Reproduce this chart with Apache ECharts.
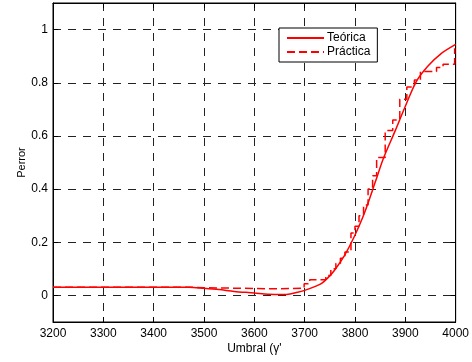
<!DOCTYPE html>
<html><head><meta charset="utf-8">
<script src="https://cdn.jsdelivr.net/npm/echarts@6/dist/echarts.min.js"></script>
<style>html,body{margin:0;padding:0;background:#fff}#c{width:472px;height:362px}</style>
</head><body><div id="c"></div>
<script>
// Theoretical curve (Teórica)
const theoX = [3200,3300,3400,3470,3500,3530,3560,3600,3627,3660,3686,3700,3720,3733,3746,3759,3779,3798,3818,3841,3856,3880,3899,3922,3945,3970,4000];
const theoY = [0.031,0.031,0.031,0.031,0.027,0.022,0.015,0.009,0.004,0.003,0.012,0.019,0.033,0.044,0.066,0.094,0.15,0.219,0.306,0.43,0.513,0.62,0.707,0.805,0.863,0.908,0.944];
// Practical curve (Práctica), staircase
const pracX = [3200,3470,3500,3640,3699,3710,3742,3752,3762,3771,3780,3792,3800,3808,3817,3826,3835,3843,3860,3875,3889,3903,3918,3930,3962,3975,3998];
const pracY = [0.031,0.029,0.025,0.027,0.044,0.059,0.075,0.10,0.12,0.14,0.163,0.235,0.26,0.30,0.34,0.40,0.45,0.519,0.62,0.66,0.738,0.784,0.81,0.842,0.857,0.87,0.93];
const xTicks = [3200,3300,3400,3500,3600,3700,3800,3900,4000];
const yTicks = [0,0.2,0.4,0.6,0.8,1];
const seriesNames = ['Teórica','Práctica'];

const zip = (a,b) => a.map((v,i)=>[v,b[i]]);
const font = 'Liberation Sans, Arial, Helvetica, sans-serif';
const gridLine = {show:true, lineStyle:{color:'#222', width:1, type:[8,7]}};
const baseX = {
  type:'value', min:3200, max:4000, interval:100,
  axisLine:{show:true, onZero:false, lineStyle:{color:'#000', width:1}},
  axisTick:{show:true, inside:true, length:5, lineStyle:{color:'#000'}},
};
const baseY = {
  type:'value', min:-0.1, max:1.1,
  axisLine:{show:true, onZero:false, lineStyle:{color:'#000', width:1}},
  axisTick:{show:true, inside:true, length:5, customValues:yTicks, lineStyle:{color:'#000'}},
};
const chart = echarts.init(document.getElementById('c'), null, {renderer:'canvas'});
chart.setOption({
  animation:false,
  backgroundColor:'#fff',
  textStyle:{fontFamily:font},
  grid:{left:53, right:14, top:3, bottom:40, show:true, borderColor:'#000', borderWidth:1},
  legend:{
    left:279, top:28, orient:'vertical',
    data:seriesNames,
    itemWidth:37, itemHeight:14, itemGap:2,
    padding:[4,7,4,7],
    borderColor:'#000', borderWidth:1, backgroundColor:'#fff',
    itemStyle:{opacity:0},
    textStyle:{fontFamily:font, fontSize:12, color:'#000', padding:[0,0,0,-2]}
  },
  xAxis:[
    Object.assign({}, baseX, {
      position:'bottom',
      axisLabel:{show:true, fontSize:12, color:'#000', margin:6, fontFamily:font, formatter:(v)=>String(v)},
      splitLine:gridLine,
      name:"Umbral (γ'", nameLocation:'middle', nameGap:21, nameMoveOverlap:false,
      nameTextStyle:{fontSize:12, color:'#000', fontFamily:font}
    }),
    Object.assign({}, baseX, {position:'top', axisLabel:{show:false}, splitLine:{show:false}})
  ],
  yAxis:[
    Object.assign({}, baseY, {
      position:'left',
      axisLabel:{show:true, customValues:yTicks, fontSize:12, color:'#000', margin:5, fontFamily:font},
      splitLine:gridLine,
      name:'Perror', nameLocation:'middle', nameGap:26, nameRotate:90, nameMoveOverlap:false,
      nameTextStyle:{fontSize:11, color:'#000', fontFamily:font}
    }),
    Object.assign({}, baseY, {position:'right', axisLabel:{show:false}, splitLine:{show:false}})
  ],
  series:[
    {
      name:seriesNames[0], type:'line', xAxisIndex:0, yAxisIndex:0,
      data:zip(theoX, theoY), symbol:'none', smooth:0.3,
      lineStyle:{color:'#ff0000', width:1.5}, itemStyle:{color:'#ff0000'}, z:3
    },
    {
      name:seriesNames[1], type:'line', xAxisIndex:0, yAxisIndex:0,
      data:zip(pracX, pracY), symbol:'none', step:'end',
      lineStyle:{color:'#ff0000', width:1.5, type:[8,4]}, itemStyle:{color:'#ff0000'}, z:2
    }
  ]
});
</script>
</body></html>
